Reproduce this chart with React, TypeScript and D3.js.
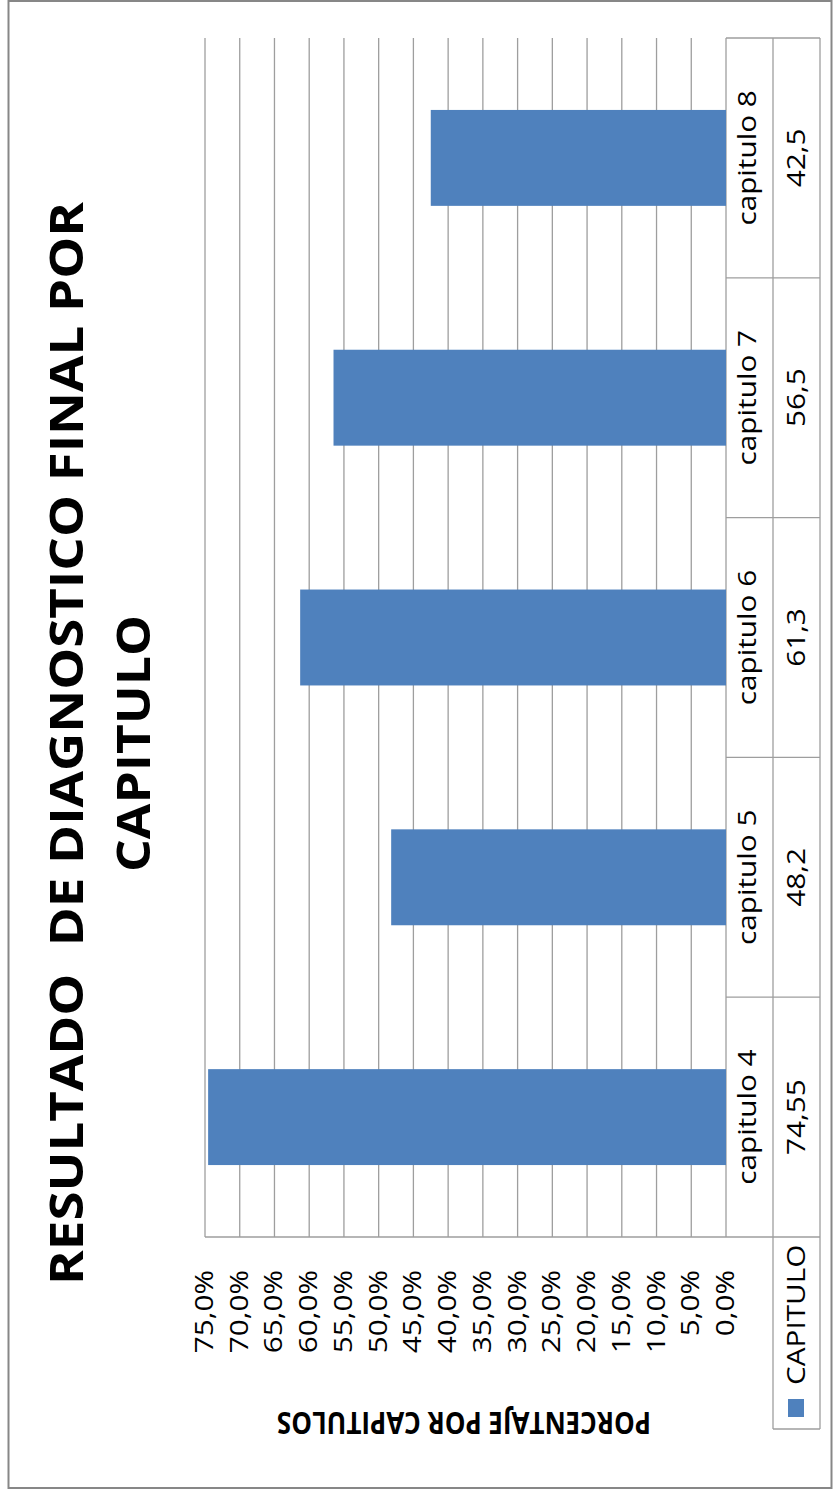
import React from "react";
import * as d3 from "d3";

const categories = ["capitulo 4", "capitulo 5", "capitulo 6", "capitulo 7", "capitulo 8"];
const values = [74.55, 48.2, 61.3, 56.5, 42.5];
const valueLabels = ["74,55", "48,2", "61,3", "56,5", "42,5"];
const tickValues = [0, 5, 10, 15, 20, 25, 30, 35, 40, 45, 50, 55, 60, 65, 70, 75];
const seriesName = "CAPITULO";
const titleLines = ["RESULTADO  DE DIAGNOSTICO FINAL POR", "CAPITULO"];
const axisTitle = "PORCENTAJE POR CAPITULOS";

const W = 835;
const H = 1494;
const S = 1.19; // vertical stretch of the picture
const FONT = "'Open Sans', 'Liberation Sans', sans-serif";
const BAR = "#4F81BD";
const GRID = "#9e9e9e";

export default function App() {
  const zeroX = 726;
  const maxX = 205;
  const row1 = 773;
  const row2 = 820;
  const plotTop = 38;
  const plotBottom = 1237;
  const legendBottom = 1429;

  const x = d3.scaleLinear().domain([0, 75]).range([zeroX, maxX]);
  const y = d3.scaleBand<string>().domain(categories).range([plotBottom, plotTop]).padding(0);
  const step = y.step();
  const barW = step / 2.5;
  const fmt = (v: number) => v.toFixed(1).replace(".", ",") + "%";

  const rot = (tx: number, ty: number, sx = S) => `translate(${tx},${ty}) rotate(-90) scale(${sx},1)`;

  return (
    <svg width={W} height={H} style={{ position: "absolute", left: 0, top: 0, background: "#fff" }} fontFamily={FONT}>
      <rect x={0} y={0} width={W} height={H} fill="#fff" />
      {/* chart frame */}
      <rect x={8.5} y={1} width={823} height={1487} fill="#fff" stroke="#878787" strokeWidth={2} />

      {/* gridlines */}
      {tickValues.map((t) => (
        <line key={"g" + t} x1={x(t)} x2={x(t)} y1={plotTop} y2={plotBottom} stroke={GRID} strokeWidth={1.3} />
      ))}

      {/* bars */}
      {categories.map((c, i) => (
        <rect
          key={"b" + c}
          x={x(values[i])}
          y={(y(c) as number) + (step - barW) / 2}
          width={zeroX - x(values[i])}
          height={barW}
          fill={BAR}
        />
      ))}

      {/* value axis line */}
      <line x1={maxX} x2={row2} y1={plotBottom} y2={plotBottom} stroke={GRID} strokeWidth={1.3} />

      {/* data table */}
      <line x1={row1} x2={row1} y1={plotTop} y2={legendBottom} stroke={GRID} strokeWidth={1.3} />
      <line x1={row2} x2={row2} y1={plotTop} y2={legendBottom} stroke={GRID} strokeWidth={1.3} />
      <line x1={row1} x2={row2} y1={legendBottom} y2={legendBottom} stroke={GRID} strokeWidth={1.3} />
      {categories.map((c) => (
        <line key={"tl" + c} x1={zeroX} x2={row2} y1={y(c) as number} y2={y(c) as number} stroke={GRID} strokeWidth={1.3} />
      ))}
      {categories.map((c, i) => {
        const cy = (y(c) as number) + step / 2;
        return (
          <g key={"tt" + c}>
            <text transform={rot(756, cy)} textAnchor="middle" fontSize={25} fill="#000">
              {c}
            </text>
            <text transform={rot(805, cy)} textAnchor="middle" fontSize={25} fill="#000">
              {valueLabels[i]}
            </text>
          </g>
        );
      })}

      {/* legend key in table */}
      <rect x={788} y={1399} width={16} height={18} fill={BAR} />
      <text transform={rot(805, 1385)} textAnchor="start" fontSize={25} fill="#000">
        {seriesName}
      </text>

      {/* tick labels */}
      {tickValues.map((t) => (
        <text key={"t" + t} transform={rot(x(t) + 8, 1270)} textAnchor="end" fontSize={25} fill="#000">
          {fmt(t)}
        </text>
      ))}

      {/* axis title, upside down */}
      <text
        transform={`translate(464,1412) rotate(180) scale(1.04,${S})`}
        textAnchor="middle"
        fontSize={25}
        fontWeight="bold"
        fill="#000"
      >
        {axisTitle}
      </text>

      {/* chart title */}
      <text
        transform={`translate(83,743.5) rotate(-90)`}
        textAnchor="middle"
        fontSize={46}
        fontWeight="bold"
        fill="#000"
        textLength={1083}
        lengthAdjust="spacingAndGlyphs"
        style={{ whiteSpace: "pre" }}
      >
        {titleLines[0]}
      </text>
      <text
        transform={`translate(150,743.5) rotate(-90)`}
        textAnchor="middle"
        fontSize={46}
        fontWeight="bold"
        fill="#000"
        textLength={257}
        lengthAdjust="spacingAndGlyphs"
      >
        {titleLines[1]}
      </text>
    </svg>
  );
}
